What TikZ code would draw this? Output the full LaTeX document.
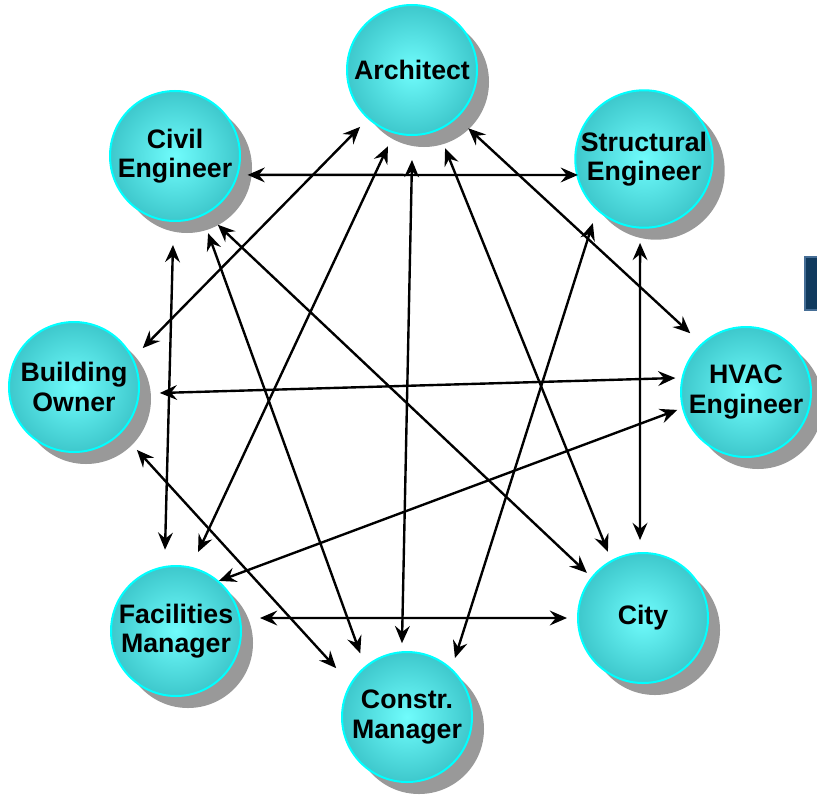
\documentclass[tikz,border=0pt]{standalone}
\usepackage{fontspec}
\setmainfont{Liberation Sans}
\usepackage{tikz}
\usetikzlibrary{arrows.meta,shadows,calc}
\usepackage{xcolor}
\definecolor{bubblein}{RGB}{112,252,252}
\definecolor{bubbleout}{RGB}{62,200,204}
\definecolor{bubbleline}{RGB}{0,255,255}
\definecolor{shadowgray}{RGB}{153,153,153}
\definecolor{navybox}{RGB}{16,58,94}
\definecolor{navyedge}{RGB}{70,110,150}
\tikzstyle{party} = [circle, minimum size=32.5mm, inner sep=0pt, draw=bubbleline,
  line width=0.5mm, inner color=bubblein, outer color=bubbleout, align=center,
  font=\bfseries\fontsize{19}{21}\selectfont,
  drop shadow={shadow xshift=3mm, shadow yshift=-3mm, fill=shadowgray, opacity=1}]
\tikzstyle{link} = [line width=1.7pt,<->,>={Stealth[length=4.3mm,width=3.7mm,inset=1.5mm]}]

\begin{document}
\begin{tikzpicture}[x=0.25mm,y=0.25mm]
  \useasboundingbox (0,0) rectangle (817,-797);

  % Box cut by the right edge
  \filldraw[fill=navybox, draw=navyedge, line width=0.4mm] (805,-257) rectangle (840,-310);

  % Parties round the ring
  \node[party] (arch) at (412,-70) {Architect};
  \node[party] (civil) at (175,-156) {Civil\\Engineer};
  \node[party] (struct) at (644,-159) {Structural\\Engineer};
  \node[party] (owner) at (74,-387) {Building\\Owner};
  \node[party] (hvac) at (746,-392) {HVAC\\Engineer};
  \node[party] (fac) at (176,-631) {Facilities\\Manager};
  \node[party] (city) at (643,-618) {City};
  \node[party] (constr) at (407,-717) {Constr.\\Manager};

  % Links between parties
  \draw[link] ($(civil)+(-14.6:75)$) -- ($(struct)+(-166.4:68)$);
  \draw[link] ($(arch)+(-132.4:77)$) -- ($(owner)+(29.5:79)$);
  \draw[link] ($(arch)+(-107.5:80)$) -- ($(fac)+(74.4:82)$);
  \draw[link] ($(arch)+(-90:90)$) -- ($(constr)+(93.9:74)$);
  \draw[link] ($(arch)+(-67.1:85)$) -- ($(city)+(117.9:75)$);
  \draw[link] ($(arch)+(-46:81)$) -- ($(hvac)+(133.5:81)$);
  \draw[link] ($(struct)+(-128.6:82)$) -- ($(constr)+(50.9:76)$);
  \draw[link] ($(struct)+(-92.7:84)$) -- ($(city)+(92.2:78)$);
  \draw[link] ($(civil)+(-91.3:89)$) -- ($(fac)+(97.7:82)$);
  \draw[link] ($(civil)+(-66.8:84)$) -- ($(constr)+(126.3:79)$);
  \draw[link] ($(civil)+(-58.1:81)$) -- ($(city)+(141.2:72)$);
  \draw[link] ($(owner)+(-4:86)$) -- ($(hvac)+(168.8:72)$);
  \draw[link] ($(owner)+(-45:89)$) -- ($(constr)+(145.4:86)$);
  \draw[link] ($(hvac)+(-165.4:71)$) -- ($(fac)+(49.4:66)$);
  \draw[link] ($(fac)+(8.8:85)$) -- ($(city)+(180:76)$);
\end{tikzpicture}
\end{document}
